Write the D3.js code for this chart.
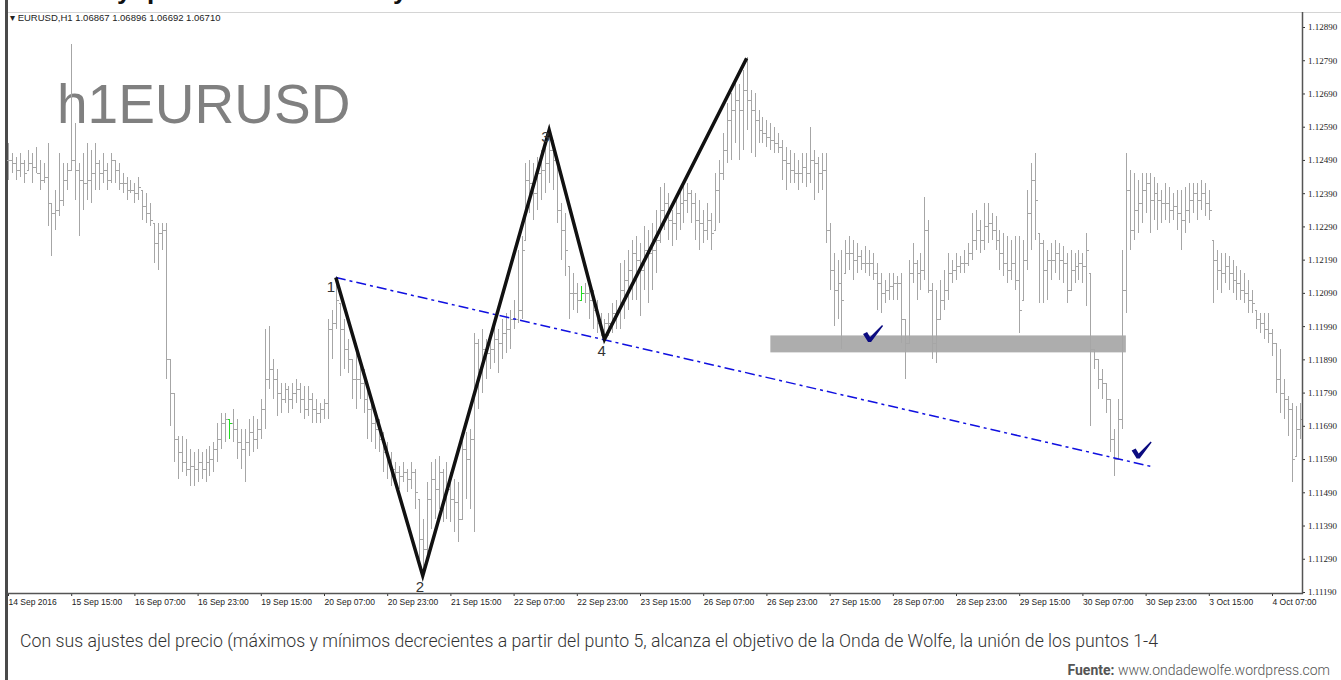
<!DOCTYPE html>
<html>
<head>
<meta charset="utf-8">
<script src="https://cdn.jsdelivr.net/npm/d3@7"></script>
<style>
  body { margin: 0; background: #fff; }
  svg { display: block; }
</style>
</head>
<body>
<div id="chart"></div>
<script>
// EURUSD H1 bars, 14 Sep - 4 Oct 2016
var highs = [
  1.1254,1.1251,1.1250,1.1251,1.1249,1.1252,1.1251,1.1253,1.1249,1.1248,
  1.1254,1.1236,1.1240,1.1251,1.1248,1.1248,1.1284,1.1260,1.1248,1.1251,
  1.1254,1.1252,1.1254,1.1249,1.1251,1.1248,1.1251,1.1249,1.1248,1.1245,
  1.1244,1.1243,1.1242,1.1244,1.1240,1.1239,1.1236,1.1230,1.1230,1.1230,
  1.1230,1.1189,1.1179,1.1166,1.1166,1.1165,1.1162,1.1161,1.1162,1.1161,
  1.1162,1.1163,1.1164,1.1170,1.1173,1.1173,1.1171,1.1174,1.1171,1.1168,
  1.1168,1.1171,1.1172,1.1171,1.1177,1.1198,1.1199,1.1189,1.1186,1.1182,
  1.1182,1.1181,1.1182,1.1183,1.1182,1.1181,1.1181,1.1179,1.1177,1.1176,
  1.1177,1.1201,1.1204,1.1214,1.1206,1.1201,1.1195,1.1189,1.1191,1.1188,
  1.1186,1.1182,1.1177,1.1174,1.1171,1.1167,1.1164,1.1161,1.1158,1.1157,
  1.1158,1.1156,1.1158,1.1156,1.1147,1.1141,1.1152,1.1158,1.1159,1.1160,
  1.1156,1.1158,1.1155,1.1153,1.1152,1.1165,1.1167,1.1168,1.1197,1.1195,
  1.1198,1.1195,1.1197,1.1200,1.1198,1.1201,1.1203,1.1204,1.1207,1.1222,
  1.1226,1.1248,1.1249,1.1248,1.1250,1.1252,1.1255,1.1258,1.1255,1.1249,
  1.1236,1.1233,1.1217,1.1215,1.1212,1.1211,1.1212,1.1212,1.1210,1.1207,
  1.1203,1.1201,1.1203,1.1206,1.1207,1.1218,1.1219,1.1222,1.1225,1.1226,
  1.1224,1.1229,1.1228,1.1230,1.1234,1.1241,1.1242,1.1239,1.1234,1.1237,
  1.1240,1.1242,1.1242,1.1240,1.1239,1.1237,1.1234,1.1236,1.1233,1.1245,
  1.1249,1.1257,1.1266,1.1269,1.1273,1.1272,1.1276,1.1280,1.1270,1.1269,
  1.1264,1.1262,1.1261,1.1260,1.1259,1.1257,1.1255,1.1253,1.1252,1.1251,
  1.1249,1.1251,1.1251,1.1259,1.1252,1.1250,1.1251,1.1251,1.1230,1.1221,
  1.1219,1.1222,1.1225,1.1226,1.1225,1.1224,1.1222,1.1223,1.1222,1.1221,
  1.1218,1.1215,1.1213,1.1215,1.1215,1.1214,1.1215,1.1201,1.1219,1.1224,
  1.1219,1.1221,1.1238,1.1231,1.1212,1.1210,1.1213,1.1216,1.1221,1.1219,
  1.1221,1.1220,1.1222,1.1224,1.1233,1.1234,1.1231,1.1236,1.1236,1.1233,
  1.1232,1.1228,1.1227,1.1226,1.1225,1.1226,1.1226,1.1225,1.1240,1.1248,
  1.1251,1.1227,1.1225,1.1222,1.1224,1.1225,1.1224,1.1223,1.1221,1.1222,
  1.1221,1.1222,1.1221,1.1227,1.1215,1.1192,1.1189,1.1186,1.1182,1.1177,
  1.1168,1.1177,1.1222,1.1251,1.1246,1.1245,1.1243,1.1245,1.1245,1.1245,
  1.1244,1.1242,1.1240,1.1242,1.1241,1.1239,1.1240,1.1240,1.1241,1.1242,
  1.1242,1.1242,1.1243,1.1242,1.1240,1.1225,1.1222,1.1221,1.1221,1.1220,
  1.1219,1.1217,1.1216,1.1215,1.1213,1.1210,1.1204,1.1203,1.1203,1.1203,
  1.1198,1.1194,1.1192,1.1183,1.1178,1.1176,1.1175,1.1176
];
var lows = [
  1.1243,1.1245,1.1243,1.1244,1.1242,1.1246,1.1242,1.1245,1.1240,1.1242,
  1.1229,1.1220,1.1228,1.1232,1.1235,1.1240,1.1246,1.1237,1.1226,1.1234,
  1.1237,1.1236,1.1240,1.1240,1.1242,1.1240,1.1242,1.1242,1.1240,1.1239,
  1.1237,1.1239,1.1236,1.1237,1.1231,1.1230,1.1229,1.1218,1.1216,1.1222,
  1.1183,1.1169,1.1158,1.1153,1.1155,1.1154,1.1151,1.1151,1.1152,1.1153,
  1.1152,1.1154,1.1155,1.1158,1.1162,1.1164,1.1165,1.1164,1.1159,1.1156,
  1.1152,1.1160,1.1161,1.1162,1.1165,1.1168,1.1180,1.1177,1.1172,1.1173,
  1.1176,1.1173,1.1174,1.1176,1.1173,1.1171,1.1172,1.1170,1.1170,1.1170,
  1.1171,1.1171,1.1189,1.1198,1.1184,1.1186,1.1185,1.1177,1.1174,1.1177,
  1.1173,1.1165,1.1164,1.1162,1.1161,1.1155,1.1153,1.1151,1.1151,1.1150,
  1.1152,1.1149,1.1150,1.1144,1.1129,1.1124,1.1129,1.1138,1.1141,1.1144,
  1.1140,1.1141,1.1140,1.1137,1.1134,1.1141,1.1147,1.1144,1.1137,1.1174,
  1.1179,1.1183,1.1186,1.1188,1.1185,1.1189,1.1191,1.1192,1.1198,1.1200,
  1.1201,1.1225,1.1233,1.1231,1.1234,1.1237,1.1239,1.1242,1.1240,1.1230,
  1.1219,1.1214,1.1201,1.1204,1.1203,1.1207,1.1206,1.1201,1.1198,1.1197,
  1.1196,1.1195,1.1196,1.1197,1.1198,1.1198,1.1201,1.1204,1.1207,1.1207,
  1.1202,1.1210,1.1206,1.1210,1.1215,1.1224,1.1228,1.1225,1.1223,1.1225,
  1.1228,1.1230,1.1233,1.1230,1.1225,1.1222,1.1224,1.1225,1.1222,1.1228,
  1.1230,1.1243,1.1248,1.1249,1.1254,1.1249,1.1252,1.1258,1.1251,1.1250,
  1.1254,1.1254,1.1253,1.1252,1.1251,1.1251,1.1243,1.1240,1.1242,1.1242,
  1.1240,1.1242,1.1241,1.1242,1.1237,1.1239,1.1240,1.1224,1.1210,1.1199,
  1.1201,1.1192,1.1215,1.1216,1.1213,1.1215,1.1216,1.1215,1.1214,1.1213,
  1.1204,1.1203,1.1206,1.1207,1.1207,1.1207,1.1194,1.1183,1.1194,1.1212,
  1.1207,1.1210,1.1213,1.1209,1.1189,1.1188,1.1201,1.1204,1.1207,1.1212,
  1.1213,1.1215,1.1215,1.1217,1.1219,1.1222,1.1221,1.1222,1.1224,1.1225,
  1.1222,1.1216,1.1214,1.1212,1.1213,1.1210,1.1197,1.1207,1.1216,1.1222,
  1.1225,1.1206,1.1206,1.1207,1.1213,1.1215,1.1213,1.1212,1.1206,1.1210,
  1.1212,1.1213,1.1212,1.1205,1.1169,1.1186,1.1180,1.1177,1.1173,1.1161,
  1.1154,1.1159,1.1168,1.1203,1.1222,1.1225,1.1227,1.1230,1.1233,1.1227,
  1.1231,1.1228,1.1230,1.1231,1.1230,1.1231,1.1228,1.1222,1.1227,1.1230,
  1.1233,1.1231,1.1234,1.1232,1.1231,1.1206,1.1210,1.1209,1.1212,1.1210,
  1.1209,1.1207,1.1207,1.1206,1.1203,1.1203,1.1198,1.1197,1.1195,1.1194,
  1.1190,1.1179,1.1173,1.1171,1.1166,1.1152,1.1160,1.1165
];
var closes = [
  1.1249,1.1248,1.1246,1.1248,1.1245,1.1248,1.1247,1.1245,1.1243,1.1244,
  1.1236,1.1233,1.1234,1.1237,1.1243,1.1246,1.1249,1.1246,1.1243,1.1242,
  1.1243,1.1245,1.1248,1.1245,1.1246,1.1243,1.1249,1.1246,1.1242,1.1242,
  1.1240,1.1240,1.1239,1.1241,1.1235,1.1233,1.1231,1.1224,1.1227,1.1228,
  1.1189,1.1179,1.1165,1.1161,1.1158,1.1156,1.1157,1.1156,1.1158,1.1156,
  1.1158,1.1159,1.1162,1.1165,1.1170,1.1171,1.1170,1.1168,1.1164,1.1162,
  1.1164,1.1167,1.1165,1.1168,1.1174,1.1183,1.1186,1.1183,1.1179,1.1177,
  1.1180,1.1177,1.1179,1.1180,1.1177,1.1174,1.1177,1.1174,1.1173,1.1174,
  1.1176,1.1198,1.1200,1.1207,1.1198,1.1192,1.1189,1.1183,1.1183,1.1182,
  1.1177,1.1174,1.1170,1.1168,1.1165,1.1161,1.1159,1.1156,1.1155,1.1154,
  1.1155,1.1153,1.1155,1.1149,1.1135,1.1132,1.1147,1.1153,1.1150,1.1155,
  1.1147,1.1150,1.1147,1.1146,1.1141,1.1162,1.1159,1.1165,1.1194,1.1186,
  1.1192,1.1191,1.1192,1.1195,1.1194,1.1197,1.1198,1.1201,1.1201,1.1204,
  1.1222,1.1243,1.1242,1.1239,1.1245,1.1246,1.1248,1.1252,1.1249,1.1234,
  1.1228,1.1222,1.1209,1.1209,1.1207,1.1209,1.1209,1.1207,1.1204,1.1200,
  1.1198,1.1200,1.1200,1.1203,1.1204,1.1210,1.1213,1.1216,1.1221,1.1219,
  1.1216,1.1222,1.1221,1.1222,1.1225,1.1234,1.1236,1.1231,1.1230,1.1233,
  1.1236,1.1237,1.1239,1.1236,1.1231,1.1230,1.1228,1.1231,1.1227,1.1240,
  1.1245,1.1252,1.1261,1.1264,1.1267,1.1264,1.1270,1.1267,1.1264,1.1261,
  1.1258,1.1257,1.1256,1.1255,1.1254,1.1253,1.1249,1.1248,1.1246,1.1245,
  1.1245,1.1247,1.1245,1.1249,1.1248,1.1245,1.1246,1.1228,1.1216,1.1210,
  1.1212,1.1207,1.1221,1.1221,1.1219,1.1220,1.1218,1.1218,1.1218,1.1215,
  1.1212,1.1209,1.1210,1.1211,1.1212,1.1212,1.1201,1.1194,1.1215,1.1218,
  1.1215,1.1216,1.1228,1.1210,1.1194,1.1201,1.1207,1.1210,1.1215,1.1216,
  1.1217,1.1218,1.1218,1.1221,1.1225,1.1228,1.1225,1.1229,1.1230,1.1228,
  1.1225,1.1221,1.1218,1.1216,1.1218,1.1213,1.1204,1.1219,1.1233,1.1243,
  1.1237,1.1224,1.1216,1.1219,1.1219,1.1221,1.1219,1.1218,1.1210,1.1216,
  1.1217,1.1218,1.1217,1.1222,1.1192,1.1189,1.1183,1.1182,1.1177,1.1165,
  1.1159,1.1171,1.1210,1.1240,1.1228,1.1234,1.1236,1.1240,1.1242,1.1237,
  1.1239,1.1237,1.1236,1.1236,1.1234,1.1235,1.1233,1.1231,1.1234,1.1237,
  1.1239,1.1237,1.1239,1.1236,1.1234,1.1219,1.1216,1.1215,1.1217,1.1215,
  1.1213,1.1212,1.1210,1.1209,1.1207,1.1206,1.1201,1.1200,1.1198,1.1197,
  1.1194,1.1183,1.1179,1.1177,1.1174,1.1159,1.1168,1.1171
];
var greenBars = [56, 145];

// time labels, one every 16 bars
var timeLabels = ["14 Sep 2016","15 Sep 15:00","16 Sep 07:00","16 Sep 23:00","19 Sep 15:00",
  "20 Sep 07:00","20 Sep 23:00","21 Sep 15:00","22 Sep 07:00","22 Sep 23:00","23 Sep 15:00",
  "26 Sep 07:00","26 Sep 23:00","27 Sep 15:00","28 Sep 07:00","28 Sep 23:00","29 Sep 15:00",
  "30 Sep 07:00","30 Sep 23:00","3 Oct 15:00","4 Oct 07:00"];
var priceTicks = [1.1289,1.1279,1.1269,1.1259,1.1249,1.1239,1.1229,1.1219,1.1209,
  1.1199,1.1189,1.1179,1.1169,1.1159,1.1149,1.1139,1.1129,1.1119];

// Wolfe wave points 1..5 (bar index, price)
var wolfeIdx   = [83, 105, 137, 151, 187];
var wolfePrice = [1.12136, 1.11239, 1.12580, 1.11950, 1.12796];
var wolfeNames = ["1", "2", "3", "4"];
// target line 1-4 extended
var targetIdx   = [83, 290];
var targetPrice = [1.12136, 1.11566];
// grey support zone
var zoneIdx   = [193, 283];
var zonePrice = [1.11962, 1.11911];
// check marks
var checkIdx   = [219, 287];
var checkPrice = [1.1196, 1.1161];

var W = 1341, H = 680;

var svg = d3.select("#chart").append("svg")
    .attr("width", W).attr("height", H)
    .style("font-family", "'Liberation Sans', Arial, sans-serif");

var x = d3.scaleLinear().domain([0, 327]).range([8, 8 + 3.95 * 327]);
var y = d3.scaleLinear().domain([1.1119, 1.1289]).range([592, 27]);

// frame
svg.append("line").attr("x1", 7).attr("x2", W).attr("y1", 12.5).attr("y2", 12.5)
    .attr("stroke", "#d4d4d4").attr("stroke-width", 1);
svg.append("rect").attr("x", 5).attr("y", 0).attr("width", 3).attr("height", H).attr("fill", "#4a4a4a");

// title above the chart, only its descenders show
[["y", 117], ["p", 147], ["y", 393]].forEach(function(t) {
  svg.append("text").attr("x", t[1]).attr("y", -1)
     .attr("font-size", 26).attr("font-weight", "bold").attr("fill", "#111").text(t[0]);
});

svg.append("text").attr("x", 10).attr("y", 21).attr("font-size", 9.5).attr("fill", "#222")
    .text("\u25BE EURUSD,H1  1.06867 1.06896 1.06692 1.06710");

svg.append("text").attr("x", 57).attr("y", 123).attr("font-size", 55).attr("fill", "#808080")
    .text("h1EURUSD");

// support zone
svg.append("rect")
    .attr("x", x(zoneIdx[0])).attr("y", y(zonePrice[0]))
    .attr("width", x(zoneIdx[1]) - x(zoneIdx[0]))
    .attr("height", y(zonePrice[1]) - y(zonePrice[0]))
    .attr("fill", "#adadad");

// OHLC bars
var bars = svg.append("g").attr("shape-rendering", "crispEdges");
highs.forEach(function(h, i) {
  var o = i > 0 ? closes[i - 1] : closes[0];
  o = Math.max(lows[i], Math.min(h, o));
  var cx = Math.round(x(i)) + 0.5;
  var col = greenBars.indexOf(i) >= 0 ? "#22dd22" : "#a6a6a6";
  var g = bars.append("g").attr("stroke", col).attr("stroke-width", 1);
  g.append("line").attr("x1", cx).attr("x2", cx).attr("y1", y(h)).attr("y2", y(lows[i]));
  g.append("line").attr("x1", cx - 2).attr("x2", cx).attr("y1", Math.round(y(o)) + 0.5).attr("y2", Math.round(y(o)) + 0.5);
  g.append("line").attr("x1", cx).attr("x2", cx + 2).attr("y1", Math.round(y(closes[i])) + 0.5).attr("y2", Math.round(y(closes[i])) + 0.5);
});

// target line 1-4
svg.append("line")
    .attr("x1", x(targetIdx[0])).attr("y1", y(targetPrice[0]))
    .attr("x2", x(targetIdx[1])).attr("y2", y(targetPrice[1]))
    .attr("stroke", "#1010e0").attr("stroke-width", 1.5)
    .attr("stroke-dasharray", "10,4,3,4");

// wolfe wave
var line = d3.line()
    .x(function(d) { return x(d[0]); })
    .y(function(d) { return y(d[1]); });
svg.append("path")
    .datum(wolfeIdx.map(function(d, i) { return [d, wolfePrice[i]]; }))
    .attr("fill", "none").attr("stroke", "#111").attr("stroke-width", 3.5)
    .attr("stroke-linejoin", "miter")
    .attr("d", line);

var labelOff = [[-9, 14], [-7, 16], [-8, 12], [-7, 17]];
wolfeNames.forEach(function(n, i) {
  svg.append("text")
     .attr("x", x(wolfeIdx[i]) + labelOff[i][0])
     .attr("y", y(wolfePrice[i]) + labelOff[i][1])
     .attr("font-size", 15).attr("fill", "#333").text(n);
});

// check marks
checkIdx.forEach(function(d, i) {
  svg.append("path")
     .attr("transform", "translate(" + x(d) + "," + y(checkPrice[i]) + ")")
     .attr("d", "M-10,-2 L-6,-4 L-3,1 L9,-11 L10,-10 L-2,6 L-5,6 Z")
     .attr("fill", "#0b0b80");
});

// axes
var yAxis = svg.append("g")
    .attr("transform", "translate(1302,0)")
    .call(d3.axisRight(y).tickValues(priceTicks).tickFormat(d3.format(".5f")).tickSize(3).tickSizeOuter(0));
yAxis.select(".domain").remove();
yAxis.selectAll("line").attr("stroke", "#333");
yAxis.selectAll("text").attr("font-size", 9).attr("fill", "#222")
    .attr("font-family", "'Liberation Serif', serif").attr("x", 6);

var xAxis = svg.append("g")
    .attr("transform", "translate(0,593)")
    .call(d3.axisBottom(x)
      .tickValues(timeLabels.map(function(d, i) { return i * 16; }))
      .tickFormat(function(d) { return timeLabels[d / 16]; })
      .tickSize(3).tickSizeOuter(0));
xAxis.select(".domain").remove();
xAxis.selectAll("line").attr("stroke", "#333");
xAxis.selectAll("text").attr("font-size", 8.5).attr("fill", "#222")
    .attr("text-anchor", "start").attr("x", 0).attr("y", 6);

svg.append("line").attr("x1", 1302.5).attr("x2", 1302.5).attr("y1", 12).attr("y2", 594)
    .attr("stroke", "#555").attr("stroke-width", 1.5);
svg.append("line").attr("x1", 7).attr("x2", 1303).attr("y1", 593.5).attr("y2", 593.5)
    .attr("stroke", "#555").attr("stroke-width", 1.5);

// caption
svg.append("text").attr("x", 20).attr("y", 647)
    .attr("font-family", "Roboto, sans-serif").attr("font-weight", 300)
    .attr("font-size", 18).attr("fill", "#333")
    .attr("textLength", 1138).attr("lengthAdjust", "spacingAndGlyphs")
    .text("Con sus ajustes del precio (máximos y mínimos decrecientes a partir del punto 5, alcanza el objetivo de la Onda de Wolfe, la unión de los puntos 1-4");

var src = svg.append("text").attr("x", 1330).attr("y", 675)
    .attr("text-anchor", "end")
    .attr("font-family", "Roboto, sans-serif").attr("font-size", 14).attr("fill", "#555");
src.append("tspan").attr("font-weight", "bold").text("Fuente:");
src.append("tspan").attr("font-weight", 300).text(" www.ondadewolfe.wordpress.com");
</script>
</body>
</html>
